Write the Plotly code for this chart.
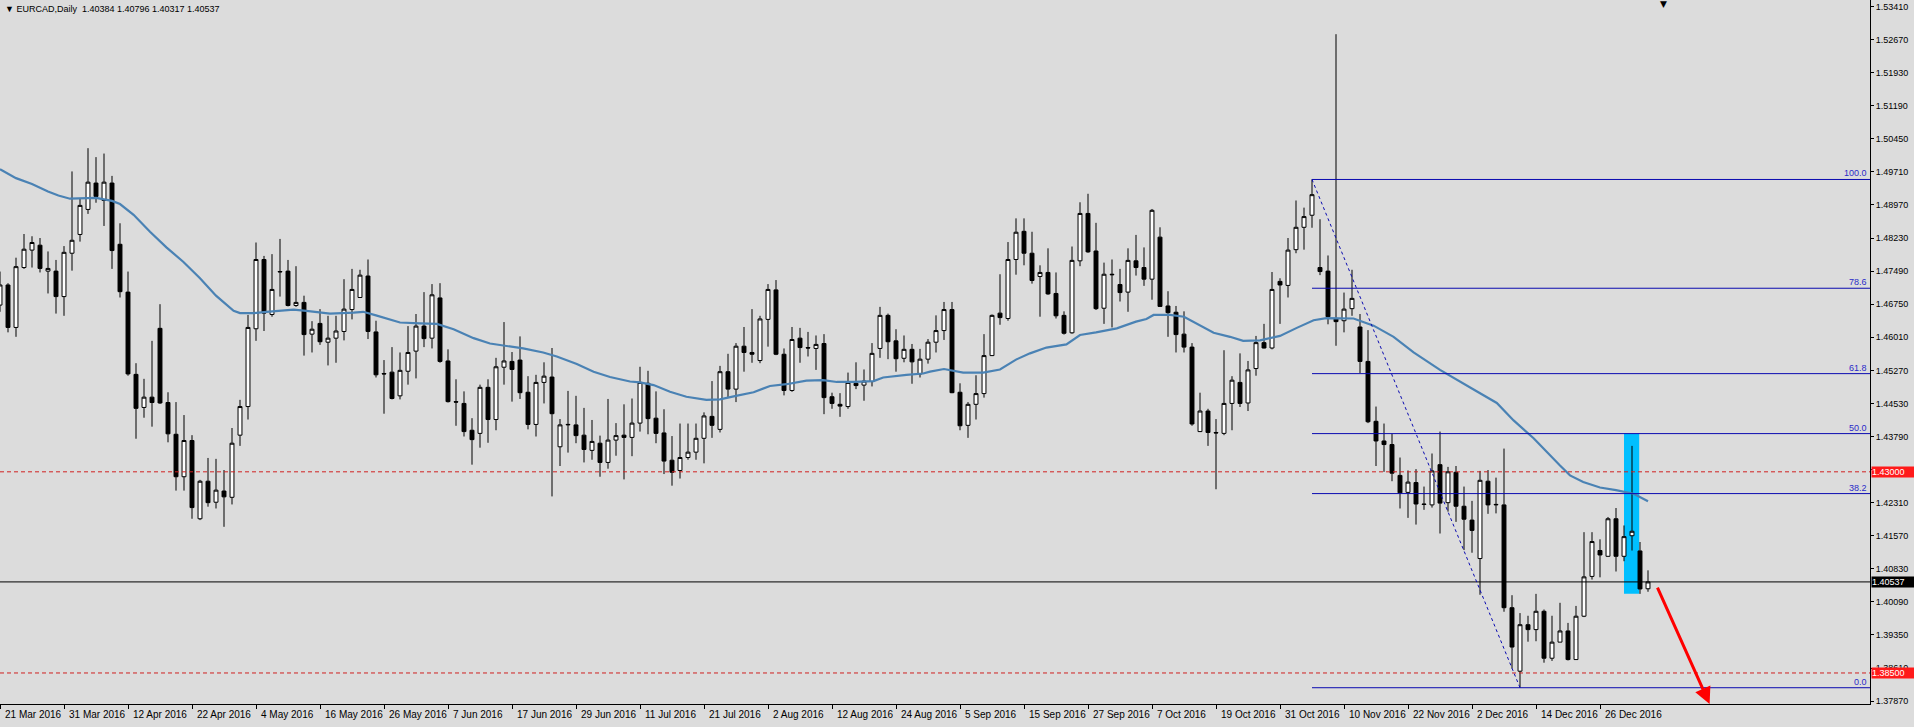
import plotly.graph_objects as go

# ---------------- data ----------------
opens = [1.4673,1.4718,1.4623,1.4757,1.4796,1.4807,1.4749,1.4749,1.4692,1.4789,
         1.4831,1.4887,1.4946,1.4907,1.4946,1.4809,1.4702,1.4518,1.4444,1.4467,
         1.4621,1.4455,1.4384,1.4289,1.4370,1.4195,1.4279,1.4232,1.4257,1.4243,
         1.4382,1.4446,1.4620,1.4775,1.4652,1.4747,1.4749,1.4672,1.4679,1.4608,
         1.4632,1.4590,1.4599,1.4614,1.4663,1.4690,1.4738,1.4613,1.4520,1.4523,
         1.4470,1.4525,1.4570,1.4626,1.4599,1.4689,1.4548,1.4457,1.4453,1.4393,
         1.4386,1.4489,1.4417,1.4534,1.4547,1.4550,1.4478,1.4406,1.4500,1.4512,
         1.4356,1.4405,1.4405,1.4382,1.4348,1.4364,1.4321,1.4371,1.4382,1.4377,
         1.4409,1.4498,1.4420,1.4387,1.4326,1.4303,1.4332,1.4344,1.4375,1.4424,
         1.4395,1.4524,1.4485,1.4581,1.4567,1.4549,1.4641,1.4707,1.4563,1.4482,
         1.4599,1.4578,1.4576,1.4587,1.4468,1.4451,1.4446,1.4498,1.4494,1.4502,
         1.4576,1.4650,1.4593,1.4554,1.4574,1.4519,1.4552,1.4590,1.4616,1.4663,
         1.4478,1.4404,1.4451,1.4475,1.4560,1.4655,1.4643,1.4775,1.4838,1.4789,
         1.4737,1.4746,1.4699,1.4650,1.4611,1.4772,1.4878,1.4794,1.4666,1.4742,
         1.4719,1.4702,1.4772,1.4757,1.4731,1.4825,1.4671,1.4657,1.4608,1.4579,
         1.4390,1.4436,1.4388,1.4386,1.4453,1.4500,1.4454,1.4531,1.4589,1.4577,
         1.4726,1.4717,1.4797,1.4847,1.4874,1.4757,1.4749,1.4642,1.4638,1.4665,
         1.4624,1.4547,1.4413,1.4369,1.4361,1.4292,1.4254,1.4276,1.4228,1.4226,
         1.4316,1.4231,1.4299,1.4223,1.4192,1.4106,1.4279,1.4226,1.4226,1.3996,
         1.3854,1.3958,1.3947,1.3988,1.3883,1.3919,1.3944,1.3880,1.3977,1.4066,
         1.4124,1.4111,1.4195,1.4111,1.4157,1.4123,1.40384]
highs = [1.4748,1.4722,1.4779,1.4832,1.4827,1.4823,1.4793,1.4774,1.4805,1.4972,
         1.4912,1.5024,1.5004,1.5012,1.4962,1.4856,1.4748,1.4543,1.4508,1.4593,
         1.4675,1.4478,1.4456,1.4427,1.4382,1.4282,1.4331,1.4329,1.4304,1.4398,
         1.4461,1.4651,1.4813,1.4783,1.4787,1.4821,1.4774,1.4760,1.4694,1.4637,
         1.4664,1.4649,1.4649,1.4731,1.4754,1.4752,1.4775,1.4638,1.4550,1.4579,
         1.4567,1.4626,1.4653,1.4702,1.4720,1.4722,1.4574,1.4507,1.4480,1.4420,
         1.4495,1.4507,1.4555,1.4635,1.4568,1.4603,1.4514,1.4517,1.4545,1.4577,
         1.4418,1.4481,1.4470,1.4443,1.4416,1.4381,1.4463,1.4409,1.4451,1.4464,
         1.4535,1.4526,1.4480,1.4440,1.4380,1.4408,1.4408,1.4408,1.4433,1.4503,
         1.4537,1.4564,1.4588,1.4624,1.4664,1.4649,1.4720,1.4729,1.4576,1.4624,
         1.4622,1.4613,1.4605,1.4608,1.4477,1.4476,1.4522,1.4545,1.4529,1.4588,
         1.4669,1.4654,1.4619,1.4605,1.4586,1.4575,1.4597,1.4650,1.4680,1.4680,
         1.4498,1.4456,1.4516,1.4608,1.4652,1.4742,1.4814,1.4867,1.4867,1.4837,
         1.4762,1.4800,1.4746,1.4659,1.4804,1.4903,1.4922,1.4857,1.4768,1.4775,
         1.4754,1.4800,1.4830,1.4802,1.4888,1.4847,1.4704,1.4671,1.4659,1.4588,
         1.4477,1.4441,1.4418,1.4572,1.4514,1.4565,1.4548,1.4604,1.4631,1.4747,
         1.4733,1.4823,1.4907,1.4891,1.4954,1.4865,1.4784,1.5279,1.4701,1.4752,
         1.4653,1.4617,1.4446,1.4408,1.4385,1.4332,1.4303,1.4306,1.4267,1.4341,
         1.4390,1.4311,1.4313,1.4267,1.4235,1.4302,1.4304,1.4287,1.4352,1.4024,
         1.3984,1.3978,1.4027,1.3992,1.3978,1.4007,1.3962,1.4000,1.4165,1.4165,
         1.4149,1.4199,1.4219,1.4180,1.4358,1.4143,1.40796]
lows = [1.4658,1.4612,1.4602,1.4754,1.4757,1.4746,1.4699,1.4654,1.4649,1.4750,
        1.4815,1.4877,1.4902,1.4850,1.4754,1.4690,1.4515,1.4374,1.4421,1.4401,
        1.4452,1.4366,1.4258,1.4258,1.4195,1.4192,1.4222,1.4218,1.4177,1.4227,
        1.4358,1.4417,1.4593,1.4615,1.4647,1.4692,1.4670,1.4669,1.4560,1.4567,
        1.4584,1.4538,1.4544,1.4594,1.4641,1.4690,1.4597,1.4511,1.4430,1.4462,
        1.4462,1.4495,1.4509,1.4579,1.4576,1.4544,1.4455,1.4403,1.4379,1.4316,
        1.4354,1.4365,1.4393,1.4495,1.4457,1.4463,1.4395,1.4379,1.4453,1.4245,
        1.4313,1.4343,1.4364,1.4321,1.4327,1.4289,1.4307,1.4336,1.4283,1.4335,
        1.4390,1.4384,1.4364,1.4295,1.4269,1.4285,1.4327,1.4327,1.4319,1.4376,
        1.4388,1.4467,1.4456,1.4524,1.4544,1.4543,1.4580,1.4561,1.4471,1.4479,
        1.4544,1.4558,1.4528,1.4429,1.4441,1.4423,1.4441,1.4485,1.4459,1.4491,
        1.4555,1.4552,1.4524,1.4545,1.4497,1.4511,1.4542,1.4567,1.4595,1.4476,
        1.4393,1.4376,1.4417,1.4466,1.4559,1.4629,1.4638,1.4741,1.4762,1.4721,
        1.4647,1.4696,1.4643,1.4607,1.4609,1.4760,1.4790,1.4662,1.4631,1.4623,
        1.4681,1.4658,1.4739,1.4716,1.4685,1.4669,1.4602,1.4567,1.4567,1.4403,
        1.4389,1.4358,1.4261,1.4382,1.4393,1.4445,1.4436,1.4515,1.4576,1.4574,
        1.4631,1.4690,1.4789,1.4797,1.4846,1.4740,1.4630,1.4582,1.4612,1.4649,
        1.4521,1.4409,1.4313,1.4300,1.4279,1.4218,1.4197,1.4182,1.4215,1.4220,
        1.4162,1.4211,1.4188,1.4125,1.4119,1.4025,1.4206,1.4207,1.3987,1.3860,
        1.3817,1.3920,1.3921,1.3873,1.3877,1.3919,1.3878,1.3880,1.3975,1.4059,
        1.4064,1.4110,1.4077,1.4100,1.4124,1.4027,1.40317]
closes = [1.4718,1.4623,1.4759,1.4798,1.4813,1.4755,1.4755,1.4692,1.4791,1.4818,
          1.4896,1.4948,1.4916,1.4948,1.4795,1.4703,1.4519,1.4442,1.4467,1.4455,
          1.4454,1.4385,1.4289,1.4370,1.4220,1.4279,1.4231,1.4259,1.4244,1.4364,
          1.4446,1.4623,1.4775,1.4655,1.4708,1.4748,1.4672,1.4679,1.4607,1.4619,
          1.4591,1.4599,1.4615,1.4664,1.4708,1.4740,1.4614,1.4517,1.4519,1.4464,
          1.4527,1.4567,1.4626,1.4598,1.4696,1.4547,1.4457,1.4456,1.4390,1.4372,
          1.4489,1.4417,1.4535,1.4548,1.4529,1.4477,1.4406,1.4500,1.4514,1.4430,
          1.4405,1.4406,1.4381,1.4350,1.4368,1.4321,1.4371,1.4381,1.4377,1.4409,
          1.4500,1.4419,1.4386,1.4324,1.4299,1.4332,1.4344,1.4375,1.4425,1.4404,
          1.4524,1.4485,1.4581,1.4567,1.4563,1.4642,1.4708,1.4563,1.4482,1.4596,
          1.4578,1.4577,1.4585,1.4466,1.4453,1.4447,1.4500,1.4493,1.4503,1.4565,
          1.4650,1.4591,1.4553,1.4574,1.4546,1.4552,1.4590,1.4616,1.4663,1.4477,
          1.4403,1.4451,1.4475,1.4560,1.4650,1.4645,1.4775,1.4836,1.4789,1.4728,
          1.4746,1.4698,1.4649,1.4610,1.4773,1.4878,1.4792,1.4665,1.4742,1.4741,
          1.4701,1.4773,1.4757,1.4731,1.4885,1.4670,1.4656,1.4607,1.4579,1.4407,
          1.4436,1.4388,1.4387,1.4453,1.4505,1.4453,1.4528,1.4589,1.4577,1.4708,
          1.4718,1.4796,1.4847,1.4871,1.4920,1.4748,1.4647,1.4636,1.4664,1.4688,
          1.4547,1.4412,1.4369,1.4361,1.4297,1.4253,1.4277,1.4228,1.4227,1.4302,
          1.4230,1.4300,1.4223,1.4194,1.4169,1.4281,1.4226,1.4227,1.3996,1.3908,
          1.3958,1.3947,1.3988,1.3883,1.3919,1.3944,1.3880,1.3977,1.4065,1.4144,
          1.4114,1.4195,1.4111,1.4155,1.4167,1.4038,1.40537]

# moving average, read at sample bar positions
ma_bar = [0,2,4,6,7.3,8.75,12,14,15,16.7,18.75,20.8,22.9,25,27,29.2,30,31.7,33.3,35.8,
          36.7,38.3,40,41.25,44.2,45.4,47,50,52.5,54.6,56.7,59.2,61.25,63.75,65.4,67.9,
          69.6,72.1,74.2,76.25,78.75,80,81.7,83.75,85.8,88.3,90,92,94.2,96.25,98.3,100.8,
          102.9,104.6,106.7,109.2,110.4,113.3,115.4,116.25,118,120.4,122.9,125,127,128.75,
          130.8,133.3,135,137,139.6,142,143.3,144.2,146.25,148,149.6,151.7,153.75,155.4,
          157.5,160,162.1,164.2,165.8,169.2,171.7,174.2,176.7,180,184.2,187.1,189.2,191.7,
          195,196.25,197.9,200,202,204.2,206]
ma_val = [1.4977,1.4957,1.4944,1.4927,1.4918,1.4911,1.4913,1.4906,1.4899,1.4875,1.4837,1.4802,
          1.4770,1.4733,1.4694,1.4660,1.4655,1.4655,1.4658,1.4662,1.4663,1.4660,1.4657,1.4654,
          1.4656,1.4658,1.4650,1.4634,1.4632,1.4631,1.4619,1.4599,1.4587,1.4581,1.4576,1.4567,
          1.4558,1.4541,1.4524,1.4512,1.4502,1.4500,1.4494,1.4479,1.4468,1.4461,1.4462,1.4470,
          1.4478,1.4492,1.4496,1.4504,1.4505,1.4501,1.4501,1.4503,1.4511,1.4517,1.4520,1.4524,
          1.4530,1.4522,1.4522,1.4529,1.4551,1.4565,1.4578,1.4585,1.4606,1.4612,1.4621,1.4636,
          1.4642,1.4651,1.4651,1.4647,1.4631,1.4611,1.4602,1.4593,1.4594,1.4604,1.4622,1.4639,
          1.4644,1.4643,1.4627,1.4602,1.4567,1.4528,1.4484,1.4454,1.4415,1.4375,1.4314,1.4292,
          1.4277,1.4265,1.4259,1.4251,1.4234]

date_labels = ["21 Mar 2016","31 Mar 2016","12 Apr 2016","22 Apr 2016","4 May 2016",
               "16 May 2016","26 May 2016","7 Jun 2016","17 Jun 2016","29 Jun 2016",
               "11 Jul 2016","21 Jul 2016","2 Aug 2016","12 Aug 2016","24 Aug 2016",
               "5 Sep 2016","15 Sep 2016","27 Sep 2016","7 Oct 2016","19 Oct 2016",
               "31 Oct 2016","10 Nov 2016","22 Nov 2016","2 Dec 2016","14 Dec 2016",
               "26 Dec 2016"]
date_label_bars = [0,8,16,24,32,40,48,56,64,72,80,88,96,104,112,120,128,136,144,152,
                   160,168,176,184,192,200]
price_ticks = [1.53410,1.52670,1.51930,1.51190,1.50450,1.49710,1.48970,1.48230,1.47490,
               1.46750,1.46010,1.45270,1.44530,1.43790,1.43050,1.42310,1.41570,1.40830,
               1.40090,1.39350,1.38610,1.37870]

fib_high_bar, fib_high = 164, 1.4954
fib_low_bar, fib_low = 190, 1.3817
fib_ratios = [0.0, 38.2, 50.0, 61.8, 78.6, 100.0]
fib_labels = ["0.0", "38.2", "50.0", "61.8", "78.6", "100.0"]

support_resistance = [1.43000, 1.38500]
last_price = 1.40537
title_text = "\u25BC EURCAD,Daily  1.40384 1.40796 1.40317 1.40537"

# ---------------- figure ----------------
X_MAX = 1870 / 8.0           # 8 px per bar
Y_MIN, Y_MAX = 1.37806, 1.53555
FONT = "Liberation Sans, Arial, sans-serif"
BG = "#dcdcdc"
FIB_COLOR = "#0a0ab0"

bars = list(range(len(opens)))
fig = go.Figure()

fig.add_trace(go.Candlestick(
    x=bars, open=opens, high=highs, low=lows, close=closes,
    increasing=dict(fillcolor="white", line=dict(color="black", width=1)),
    decreasing=dict(fillcolor="black", line=dict(color="black", width=1)),
    whiskerwidth=0, hoverinfo="skip", showlegend=False))

fig.add_trace(go.Scatter(x=ma_bar, y=ma_val, mode="lines",
                         line=dict(color="#4a82b4", width=2.2), hoverinfo="skip",
                         showlegend=False))

shapes = []
# highlighted rectangle
shapes.append(dict(type="rect", xref="x", yref="y", x0=203.0, x1=204.9,
                   y0=1.4027, y1=1.4386, fillcolor="#00bfff", line=dict(width=0),
                   layer="below"))
# red dashed support/resistance lines
for lvl in support_resistance:
    shapes.append(dict(type="line", xref="paper", yref="y", x0=0, x1=1, y0=lvl, y1=lvl,
                       line=dict(color="#d02020", width=1, dash="4px,3px")))
# current price line
shapes.append(dict(type="line", xref="paper", yref="y", x0=0, x1=1,
                   y0=last_price, y1=last_price, line=dict(color="black", width=1)))
# fibonacci levels
for r in fib_ratios:
    lvl = fib_low + (fib_high - fib_low) * r / 100.0
    shapes.append(dict(type="line", xref="x", yref="y", x0=fib_high_bar, x1=X_MAX,
                       y0=lvl, y1=lvl, line=dict(color=FIB_COLOR, width=1)))
# fib trend line
shapes.append(dict(type="line", xref="x", yref="y", x0=fib_high_bar, x1=fib_low_bar,
                   y0=fib_high, y1=fib_low, line=dict(color=FIB_COLOR, width=1, dash="dot")))

annotations = []
# title
annotations.append(dict(text=title_text, xref="paper", yref="paper", x=0, y=1,
                        xanchor="left", yanchor="top", xshift=3, yshift=-2,
                        showarrow=False, font=dict(family=FONT, size=9, color="black")))
# shift marker
annotations.append(dict(text="\u25BC", xref="x", yref="paper", x=207.9, y=1,
                        xanchor="center", yanchor="top", yshift=3, showarrow=False,
                        font=dict(family="DejaVu Sans", size=9, color="black")))
# date labels
for b, lab in zip(date_label_bars, date_labels):
    annotations.append(dict(text=lab, xref="x", yref="paper", x=b, y=0,
                            xanchor="left", yanchor="top", xshift=3, yshift=-3,
                            showarrow=False,
                            font=dict(family="Liberation Sans Narrow, Liberation Sans",
                                      size=10, color="black")))
# fib labels
for r, lab in zip(fib_ratios, fib_labels):
    lvl = fib_low + (fib_high - fib_low) * r / 100.0
    annotations.append(dict(text=lab, xref="paper", yref="y", x=1, y=lvl,
                            xanchor="right", yanchor="bottom", xshift=-1, yshift=-1,
                            showarrow=False, font=dict(family=FONT, size=9, color="#2a2ac8")))
# price boxes on the axis
for lvl, bg in [(support_resistance[0], "#ff1a1a"), (last_price, "black"),
                (support_resistance[1], "#ff1a1a")]:
    annotations.append(dict(text=f"{lvl:.5f}", xref="paper", yref="y", x=1, y=lvl,
                            xanchor="left", yanchor="middle", xshift=1, showarrow=False,
                            bgcolor=bg, borderpad=0, width=42, align="left",
                            font=dict(family=FONT, size=9, color="white")))
# red arrow
annotations.append(dict(x=213.7, y=1.37805, ax=207.1, ay=1.40442, xref="x", yref="y",
                        axref="x", ayref="y", showarrow=True, arrowhead=2, arrowsize=1.1,
                        arrowwidth=3, arrowcolor="#ff0000", text=""))

fig.update_layout(
    width=1914, height=727,
    margin=dict(l=0, r=44, t=0, b=23),
    paper_bgcolor=BG, plot_bgcolor=BG,
    showlegend=False, hovermode=False,
    shapes=shapes, annotations=annotations,
    xaxis=dict(range=[0, X_MAX], showgrid=False, zeroline=False, showline=True,
               linecolor="black", linewidth=1, mirror=True,
               tickvals=date_label_bars, ticks="outside", ticklen=4, tickcolor="black",
               showticklabels=False, rangeslider=dict(visible=False), fixedrange=True),
    yaxis=dict(range=[Y_MIN, Y_MAX], side="right", showgrid=False, zeroline=False,
               showline=True, linecolor="black", linewidth=1,
               tickvals=price_ticks, ticktext=[f"{v:.5f}" for v in price_ticks],
               ticks="outside", ticklen=3, tickcolor="black",
               tickfont=dict(family=FONT, size=9, color="black"), fixedrange=True),
)

fig.write_html("out.html")
